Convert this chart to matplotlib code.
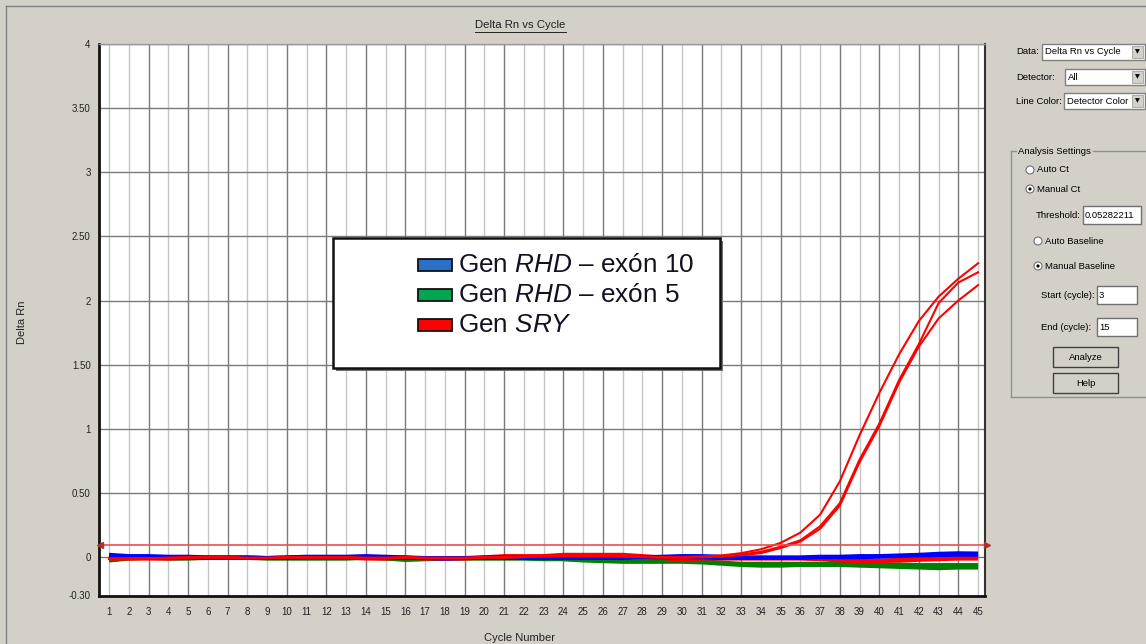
import matplotlib
matplotlib.use("Agg")
import matplotlib.pyplot as plt
from matplotlib.patches import Rectangle, Ellipse
from matplotlib.lines import Line2D
import numpy as np

plt.rcParams['font.family'] = ['Liberation Sans', 'DejaVu Sans']
plt.rcParams['mathtext.fontset'] = 'custom'
plt.rcParams['mathtext.rm'] = 'Liberation Sans'
plt.rcParams['mathtext.it'] = 'Liberation Sans:italic'

# ---------------- data ----------------
cycles = list(range(1, 46))

# Gen RHD - exon 10 (blue wells)
blue_1 = [0.02, 0.01, 0.01, 0.005, 0.005, 0.0, 0.0, 0.0, -0.005, 0.0, 0.005, 0.005, 0.005, 0.01, 0.005,
          0.0, -0.005, -0.005, -0.005, 0.0, 0.0, 0.0, 0.0, 0.0, 0.0, 0.0, 0.0, 0.0, 0.005, 0.01,
          0.01, 0.005, 0.0, 0.0, 0.0, 0.0, 0.005, 0.005, 0.01, 0.01, 0.015, 0.02, 0.028, 0.032, 0.03]
blue_2 = [0.01, 0.005, 0.0, 0.0, 0.0, -0.005, -0.005, -0.005, -0.005, -0.005, 0.0, 0.0, 0.0, 0.0, 0.0,
          -0.005, -0.01, -0.01, -0.005, -0.005, -0.005, -0.005, -0.005, -0.005, -0.005, -0.005, -0.005, 0.0, 0.0, 0.0,
          0.0, -0.005, -0.005, -0.005, -0.005, -0.005, 0.0, 0.0, 0.0, 0.005, 0.01, 0.015, 0.02, 0.025, 0.022]
blue_3 = [0.005, 0.0, -0.005, -0.005, -0.005, -0.01, -0.005, -0.005, -0.01, -0.01, -0.005, -0.005, -0.005, -0.005, -0.005,
          -0.01, -0.01, -0.015, -0.01, -0.01, -0.01, -0.01, -0.01, -0.01, -0.01, -0.01, -0.01, -0.005, -0.005, -0.005,
          -0.005, -0.01, -0.01, -0.01, -0.01, -0.01, -0.005, -0.005, -0.005, 0.0, 0.005, 0.01, 0.012, 0.015, 0.015]

# Gen RHD - exon 5 (green wells)
green_1 = [-0.02, -0.01, -0.005, -0.01, -0.01, -0.005, -0.005, -0.005, -0.01, -0.01, -0.01, -0.01, -0.01, -0.005, -0.01,
           -0.02, -0.015, -0.01, -0.01, -0.01, -0.01, -0.01, -0.01, -0.015, -0.02, -0.025, -0.03, -0.03, -0.03, -0.025,
           -0.03, -0.04, -0.05, -0.05, -0.05, -0.05, -0.05, -0.05, -0.05, -0.055, -0.055, -0.06, -0.06, -0.06, -0.06]
green_2 = [-0.03, -0.015, -0.01, -0.015, -0.015, -0.01, -0.01, -0.01, -0.015, -0.015, -0.015, -0.015, -0.015, -0.01, -0.015,
           -0.025, -0.02, -0.015, -0.015, -0.015, -0.015, -0.015, -0.02, -0.02, -0.03, -0.035, -0.04, -0.04, -0.04, -0.04,
           -0.045, -0.055, -0.065, -0.07, -0.07, -0.065, -0.065, -0.065, -0.07, -0.075, -0.08, -0.085, -0.09, -0.085, -0.085]
green_3 = [-0.025, -0.012, -0.008, -0.012, -0.012, -0.008, -0.008, -0.008, -0.012, -0.012, -0.012, -0.012, -0.012, -0.008, -0.012,
           -0.022, -0.018, -0.012, -0.012, -0.012, -0.012, -0.012, -0.015, -0.018, -0.025, -0.03, -0.035, -0.035, -0.035, -0.032,
           -0.038, -0.048, -0.058, -0.06, -0.06, -0.058, -0.058, -0.058, -0.062, -0.065, -0.07, -0.072, -0.075, -0.072, -0.072]

# Gen SRY (red wells) - amplifying
red_1 = [-0.01, -0.01, -0.01, -0.005, 0.0, 0.0, 0.0, -0.005, -0.005, 0.0, 0.0, 0.0, 0.0, -0.005, -0.005,
         0.0, -0.005, -0.005, -0.005, 0.0, 0.0, 0.005, 0.01, 0.015, 0.015, 0.015, 0.01, 0.005, 0.0, 0.0,
         0.005, 0.012, 0.03, 0.06, 0.11, 0.19, 0.33, 0.59, 0.95, 1.28, 1.58, 1.84, 2.03, 2.17, 2.29]
red_2 = [-0.015, -0.012, -0.01, -0.01, -0.005, -0.005, -0.005, -0.01, -0.01, -0.005, -0.005, -0.005, -0.005, -0.01, -0.01,
         -0.005, -0.01, -0.01, -0.01, -0.005, -0.005, 0.0, 0.005, 0.01, 0.01, 0.01, 0.005, 0.0, -0.005, -0.005,
         0.0, 0.005, 0.02, 0.04, 0.08, 0.13, 0.24, 0.42, 0.76, 1.04, 1.38, 1.66, 1.98, 2.14, 2.22]
red_3 = [-0.012, -0.01, -0.008, -0.008, -0.004, -0.004, -0.004, -0.008, -0.008, -0.004, -0.004, -0.004, -0.004, -0.008, -0.008,
         -0.004, -0.008, -0.008, -0.008, -0.004, -0.004, 0.0, 0.004, 0.008, 0.008, 0.008, 0.004, 0.0, -0.004, -0.004,
         -0.002, 0.003, 0.015, 0.03, 0.07, 0.12, 0.22, 0.40, 0.74, 1.02, 1.36, 1.64, 1.86, 2.00, 2.12]
# Gen SRY (red wells) - not amplifying
red_4 = [-0.01, -0.01, -0.01, -0.01, -0.01, 0.0, 0.0, 0.0, -0.005, 0.0, 0.0, 0.0, 0.0, -0.01, -0.01,
         0.0, -0.01, -0.01, -0.01, 0.0, 0.01, 0.01, 0.01, 0.02, 0.02, 0.02, 0.02, 0.01, 0.0, -0.02,
         -0.01, -0.01, -0.01, -0.01, -0.01, -0.01, -0.01, -0.02, -0.025, -0.025, -0.02, -0.015, -0.01, -0.005, -0.005]
red_5 = [-0.015, -0.015, -0.015, -0.015, -0.01, -0.005, -0.005, -0.005, -0.01, -0.005, -0.005, -0.005, -0.005, -0.015, -0.015,
         -0.005, -0.015, -0.015, -0.015, -0.005, 0.0, 0.0, 0.005, 0.01, 0.01, 0.01, 0.005, -0.005, -0.01, -0.025,
         -0.015, -0.015, -0.015, -0.015, -0.015, -0.015, -0.02, -0.03, -0.035, -0.035, -0.03, -0.025, -0.02, -0.015, -0.015]

threshold = 0.092
y_ticks = [-0.30, 0, 0.5, 1, 1.5, 2, 2.5, 3, 3.5, 4]
y_tick_labels = ["-0.30", "0", "0.50", "1", "1.50", "2", "2.50", "3", "3.50", "4"]
x_tick_labels = [str(c) for c in cycles]
legend_labels = [r"Gen $\mathit{RHD}$ – exón 10", r"Gen $\mathit{RHD}$ – exón 5", r"Gen $\mathit{SRY}$"]
legend_colors = ["#2a6fc8", "#00a651", "#ff0000"]

# ---------------- figure ----------------
W, H = 1146, 644
BG = "#d4d0c8"
fig = plt.figure(figsize=(W / 100, H / 100), dpi=100, facecolor=BG)

def fx(x):
    return x / W

def fy(y):
    return 1 - y / H

# outer frame
fig.add_artist(Line2D([fx(6), fx(6)], [fy(6), fy(644)], color="#808080", lw=1))
fig.add_artist(Line2D([fx(6), fx(1146)], [fy(6), fy(6)], color="#808080", lw=1))

ax = fig.add_axes([fx(99), fy(596), (985 - 99) / W, (596 - 44) / H])
ax.set_facecolor("white")
ax.set_xlim(0.49, 45.35)
ax.set_ylim(-0.304, 4.0)

dark_cycles = [3, 5, 7, 10, 12, 14, 16, 19, 21, 24, 26, 29, 31, 33, 35, 38, 40, 42, 44]
for c in cycles:
    col = "#7a7a7a" if c in dark_cycles else "#c6c6c6"
    ax.axvline(c, color=col, lw=1.0, zorder=0)
for yv in y_ticks[1:]:
    ax.axhline(yv, color="#7a7a7a", lw=1.0, zorder=0)

for s in [green_1, green_3, green_2]:
    ax.plot(cycles, s, color="#008000", lw=2.4, solid_capstyle="butt", zorder=2)
for s in [red_4, red_5]:
    ax.plot(cycles, s, color="#ff0000", lw=2.4, solid_capstyle="butt", zorder=2)
for s in [blue_3, blue_2, blue_1]:
    ax.plot(cycles, s, color="#0000ff", lw=2.4, solid_capstyle="butt", zorder=3)
for s in [red_1, red_2, red_3]:
    ax.plot(cycles, s, color="#ff0000", lw=1.5, zorder=4)

ax.axhline(threshold, color="#e85050", lw=1.4, alpha=0.85, zorder=5)
ax.plot([0.52], [threshold], marker="<", color="#b03030", ms=4, clip_on=False, zorder=6)
ax.plot([45.45], [threshold], marker=">", color="#b03030", ms=4, clip_on=False, zorder=6)

ax.set_xticks(cycles)
ax.set_xticklabels(x_tick_labels)
ax.set_yticks(y_ticks)
ax.set_yticklabels(y_tick_labels)
ax.tick_params(axis="both", length=0, labelsize=7, colors="#222222")
ax.tick_params(axis="x", pad=8)
ax.tick_params(axis="y", pad=6)

for side in ["left", "bottom"]:
    ax.spines[side].set_color("#111111")
    ax.spines[side].set_linewidth(2)
ax.spines["top"].set_color("#9a9a9a")
ax.spines["top"].set_linewidth(1)
ax.spines["right"].set_color("#333333")
ax.spines["right"].set_linewidth(1.5)

# axis titles
fig.text(fx(520), fy(25), "Delta Rn vs Cycle", fontsize=8.2, ha="center", va="center", color="#222222")
fig.add_artist(Line2D([fx(475), fx(566)], [fy(32), fy(32)], color="#222222", lw=0.7))
fig.text(fx(22), fy(322), "Delta Rn", fontsize=8, rotation=90, ha="center", va="center", color="#222222")
fig.text(fx(520), fy(638), "Cycle Number", fontsize=8, ha="center", va="center", color="#222222")

# legend box
fig.add_artist(Rectangle((fx(336), fy(371)), (720 - 333) / W, (368 - 238) / H, transform=fig.transFigure,
                         facecolor="#6e6e6e", edgecolor="none", zorder=10))
fig.add_artist(Rectangle((fx(333), fy(368)), (720 - 333) / W, (368 - 238) / H, transform=fig.transFigure,
                         facecolor="white", edgecolor="#111111", lw=1.8, zorder=11))
for i, (lab, colr) in enumerate(zip(legend_labels, legend_colors)):
    yc = 265 + i * 30
    fig.add_artist(Rectangle((fx(418), fy(yc + 6)), 34 / W, 12 / H, transform=fig.transFigure,
                             facecolor=colr, edgecolor="#111111", lw=1.3, zorder=12))
    fig.text(fx(458), fy(yc), lab, fontsize=18.8, ha="left", va="center", color="#111122", zorder=12)

# ---------------- right control panel ----------------
FS = 6.8

def combo(x0, x1, yc, txt):
    h = 16
    fig.add_artist(Rectangle((fx(x0), fy(yc + h / 2)), (x1 - x0) / W, h / H, transform=fig.transFigure,
                             facecolor="white", edgecolor="#808080", lw=1))
    fig.text(fx(x0 + 3), fy(yc), txt, fontsize=FS, ha="left", va="center", color="black")
    fig.add_artist(Rectangle((fx(x1 - 13), fy(yc + h / 2 - 2)), 11 / W, (h - 4) / H, transform=fig.transFigure,
                             facecolor=BG, edgecolor="#a0a0a0", lw=0.6))
    fig.text(fx(x1 - 7.5), fy(yc), "▼", fontsize=4.5, ha="center", va="center", color="black",
             family="DejaVu Sans")

def field(x0, x1, yc, txt):
    h = 18
    fig.add_artist(Rectangle((fx(x0), fy(yc + h / 2)), (x1 - x0) / W, h / H, transform=fig.transFigure,
                             facecolor="white", edgecolor="#707070", lw=1))
    fig.text(fx(x0 + 2), fy(yc), txt, fontsize=FS, ha="left", va="center", color="black")

def radio(x, yc, txt, sel):
    fig.add_artist(Ellipse((fx(x), fy(yc)), 8 / W, 8 / H, transform=fig.transFigure, facecolor="white",
                           edgecolor="#707070", lw=0.8))
    if sel:
        fig.add_artist(Ellipse((fx(x), fy(yc)), 3.2 / W, 3.2 / H, transform=fig.transFigure,
                               facecolor="black", edgecolor="none"))
    fig.text(fx(x + 7), fy(yc), txt, fontsize=FS, ha="left", va="center", color="black")

def button(x0, x1, yc, txt):
    h = 20
    fig.add_artist(Rectangle((fx(x0), fy(yc + h / 2)), (x1 - x0) / W, h / H, transform=fig.transFigure,
                             facecolor=BG, edgecolor="#404040", lw=1))
    fig.text(fx((x0 + x1) / 2), fy(yc), txt, fontsize=FS, ha="center", va="center", color="black")

fig.text(fx(1016), fy(52), "Data:", fontsize=FS, ha="left", va="center")
combo(1042, 1145, 52, "Delta Rn vs Cycle")
fig.text(fx(1016), fy(77), "Detector:", fontsize=FS, ha="left", va="center")
combo(1065, 1145, 77, "All")
fig.text(fx(1016), fy(101), "Line Color:", fontsize=FS, ha="left", va="center")
combo(1064, 1145, 101, "Detector Color")

# group box
gx0, gx1, gy0, gy1 = 1011, 1146, 151, 397
fig.add_artist(Line2D([fx(gx0), fx(gx0)], [fy(gy0), fy(gy1)], color="#909090", lw=1))
fig.add_artist(Line2D([fx(gx0), fx(gx1)], [fy(gy1), fy(gy1)], color="#909090", lw=1))
fig.add_artist(Line2D([fx(gx0), fx(1016)], [fy(gy0), fy(gy0)], color="#909090", lw=1))
fig.add_artist(Line2D([fx(1093), fx(gx1)], [fy(gy0), fy(gy0)], color="#909090", lw=1))
fig.text(fx(1018), fy(gy0), "Analysis Settings", fontsize=FS, ha="left", va="center")

radio(1030, 170, "Auto Ct", False)
radio(1030, 189, "Manual Ct", True)
fig.text(fx(1036), fy(215), "Threshold:", fontsize=FS, ha="left", va="center")
field(1083, 1141, 215, "0.05282211")
radio(1038, 241, "Auto Baseline", False)
radio(1038, 266, "Manual Baseline", True)
fig.text(fx(1041), fy(295), "Start (cycle):", fontsize=FS, ha="left", va="center")
field(1097, 1137, 295, "3")
fig.text(fx(1041), fy(327), "End (cycle):", fontsize=FS, ha="left", va="center")
field(1097, 1137, 327, "15")
button(1053, 1118, 357, "Analyze")
button(1053, 1118, 383, "Help")

fig.savefig("out.png", dpi=100, facecolor=BG)
